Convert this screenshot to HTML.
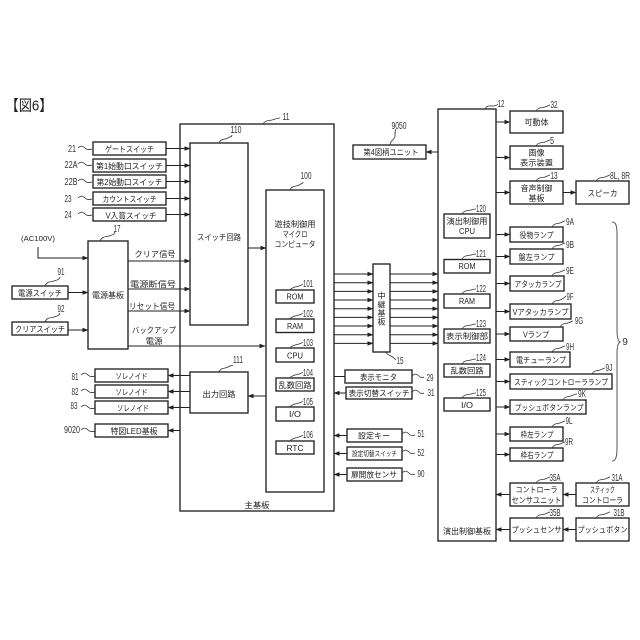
<!DOCTYPE html>
<html><head><meta charset="utf-8"><style>
html,body{margin:0;padding:0;background:#fff}
svg{display:block}
text{font-family:"Liberation Sans","Noto Sans CJK JP",sans-serif;font-size:8px;fill:#222;text-anchor:middle}
.n{font-size:10px;font-family:"Liberation Sans Narrow","Liberation Sans",sans-serif;fill:#333}
.b rect{fill:#fff;stroke:#222;stroke-width:1.35}
.l line,.l path{stroke:#222;stroke-width:1;fill:none}
.w path{stroke:#333;stroke-width:.8;fill:none}
.a path{fill:#222;stroke:none}
</style></head><body>
<svg width="640" height="640" viewBox="0 0 640 640" xmlns="http://www.w3.org/2000/svg">
<defs><marker id="m" viewBox="0 0 6 6" refX="5.5" refY="3" markerWidth="6" markerHeight="6" markerUnits="userSpaceOnUse" orient="auto"><path d="M0 .8L6 3L0 5.2z" fill="#222"/></marker></defs>
<text x="29" y="110.500" style="font-size:15px" textLength="47" lengthAdjust="spacingAndGlyphs">【図6】</text>

<g class="b">
<rect x="180" y="124" width="154" height="387"/>
<rect x="190" y="143" width="58" height="182"/>
<rect x="266" y="190" width="58" height="302"/>
<rect x="190" y="372" width="58" height="41"/>
<rect x="438" y="109" width="58" height="432"/>
<rect x="93" y="142" width="73" height="13"/>
<rect x="93" y="159" width="73" height="13"/>
<rect x="93" y="175" width="73" height="13"/>
<rect x="93" y="192" width="73" height="13"/>
<rect x="93" y="208" width="73" height="13"/>
<rect x="88" y="241" width="40" height="108"/>
<rect x="12" y="286" width="56" height="13"/>
<rect x="12" y="322" width="56" height="13"/>
<rect x="95" y="369" width="73" height="13"/>
<rect x="95" y="385" width="73" height="13"/>
<rect x="95" y="401" width="73" height="13"/>
<rect x="95" y="424" width="73" height="13"/>
<rect x="276" y="290" width="38" height="13"/>
<rect x="276" y="319" width="38" height="13.5"/>
<rect x="276" y="348" width="38" height="14"/>
<rect x="276" y="378" width="38" height="13"/>
<rect x="276" y="407" width="38" height="14"/>
<rect x="276" y="441" width="38" height="13"/>
<rect x="373" y="264" width="17" height="88"/>
<rect x="345" y="370" width="67" height="13"/>
<rect x="346" y="387" width="66" height="12"/>
<rect x="347" y="429" width="55" height="13"/>
<rect x="347" y="447" width="55" height="13"/>
<rect x="347" y="468" width="55" height="13"/>
<rect x="353" y="145" width="73" height="14"/>
<rect x="444" y="214" width="46" height="24"/>
<rect x="444" y="259.5" width="46" height="13.5"/>
<rect x="444" y="294" width="46" height="14"/>
<rect x="444" y="329" width="46" height="14"/>
<rect x="444" y="364" width="46" height="13"/>
<rect x="444" y="398" width="46" height="13"/>
<rect x="510" y="111" width="53" height="22"/>
<rect x="510" y="146" width="53" height="23"/>
<rect x="510" y="181" width="53" height="23"/>
<rect x="576" y="181" width="53" height="23"/>
<rect x="510" y="227" width="53" height="15"/>
<rect x="510" y="249" width="53" height="15"/>
<rect x="510" y="276" width="54" height="15"/>
<rect x="510" y="304" width="61" height="15"/>
<rect x="510" y="327" width="53" height="14"/>
<rect x="510" y="352" width="60" height="15"/>
<rect x="510" y="374" width="102" height="15"/>
<rect x="510" y="400" width="76" height="14"/>
<rect x="510" y="427" width="53" height="14"/>
<rect x="510" y="448" width="53" height="13"/>
<rect x="510" y="483" width="53" height="23"/>
<rect x="576" y="483" width="53" height="23"/>
<rect x="510" y="518" width="53" height="23"/>
<rect x="576" y="518" width="53" height="23"/>
</g>

<g class="l">
<line x1="166" y1="148.500" x2="190" y2="148.500" marker-end="url(#m)"/>
<line x1="166" y1="165.500" x2="190" y2="165.500" marker-end="url(#m)"/>
<line x1="166" y1="181.500" x2="190" y2="181.500" marker-end="url(#m)"/>
<line x1="166" y1="198.500" x2="190" y2="198.500" marker-end="url(#m)"/>
<line x1="166" y1="214.500" x2="190" y2="214.500" marker-end="url(#m)"/>
<path d="M38 247V258H88" marker-end="url(#m)"/>
<line x1="68" y1="292.500" x2="88" y2="292.500" marker-end="url(#m)"/>
<line x1="68" y1="330" x2="88" y2="330" marker-end="url(#m)"/>
<line x1="128" y1="261" x2="190" y2="261" marker-end="url(#m)"/>
<line x1="128" y1="289" x2="190" y2="289" marker-end="url(#m)"/>
<line x1="128" y1="311" x2="190" y2="311" marker-end="url(#m)"/>
<line x1="128" y1="346" x2="265" y2="346" marker-end="url(#m)"/>
<line x1="248" y1="248" x2="266" y2="248" marker-end="url(#m)"/>
<line x1="266" y1="396" x2="248" y2="396" marker-end="url(#m)"/>
<line x1="190" y1="375.500" x2="168" y2="375.500" marker-end="url(#m)"/>
<line x1="190" y1="391.500" x2="168" y2="391.500" marker-end="url(#m)"/>
<line x1="190" y1="407.500" x2="168" y2="407.500" marker-end="url(#m)"/>
<line x1="180" y1="430.500" x2="168" y2="430.500" marker-end="url(#m)"/>
<line x1="334" y1="274" x2="373" y2="274" marker-end="url(#m)"/><line x1="390" y1="274" x2="438" y2="274" marker-end="url(#m)"/>
<line x1="334" y1="282.700" x2="373" y2="282.700" marker-end="url(#m)"/><line x1="390" y1="282.700" x2="438" y2="282.700" marker-end="url(#m)"/>
<line x1="334" y1="291.400" x2="373" y2="291.400" marker-end="url(#m)"/><line x1="390" y1="291.400" x2="438" y2="291.400" marker-end="url(#m)"/>
<line x1="334" y1="300" x2="373" y2="300" marker-end="url(#m)"/><line x1="390" y1="300" x2="438" y2="300" marker-end="url(#m)"/>
<line x1="334" y1="308.700" x2="373" y2="308.700" marker-end="url(#m)"/><line x1="390" y1="308.700" x2="438" y2="308.700" marker-end="url(#m)"/>
<line x1="334" y1="317.400" x2="373" y2="317.400" marker-end="url(#m)"/><line x1="390" y1="317.400" x2="438" y2="317.400" marker-end="url(#m)"/>
<line x1="334" y1="326" x2="373" y2="326" marker-end="url(#m)"/><line x1="390" y1="326" x2="438" y2="326" marker-end="url(#m)"/>
<line x1="334" y1="334.700" x2="373" y2="334.700" marker-end="url(#m)"/><line x1="390" y1="334.700" x2="438" y2="334.700" marker-end="url(#m)"/>
<line x1="334" y1="343.400" x2="373" y2="343.400" marker-end="url(#m)"/><line x1="390" y1="343.400" x2="438" y2="343.400" marker-end="url(#m)"/>
<line x1="334" y1="376.500" x2="345" y2="376.500"/>
<line x1="346" y1="393" x2="334" y2="393" marker-end="url(#m)"/>
<line x1="347" y1="435.500" x2="334" y2="435.500" marker-end="url(#m)"/>
<line x1="347" y1="453.500" x2="334" y2="453.500" marker-end="url(#m)"/>
<line x1="347" y1="474.500" x2="334" y2="474.500" marker-end="url(#m)"/>
<line x1="438" y1="152" x2="426" y2="152" marker-end="url(#m)"/>
<line x1="496" y1="122" x2="510" y2="122" marker-end="url(#m)"/>
<line x1="496" y1="157.500" x2="510" y2="157.500" marker-end="url(#m)"/>
<line x1="496" y1="192.500" x2="510" y2="192.500" marker-end="url(#m)"/>
<line x1="563" y1="192.500" x2="576" y2="192.500" marker-end="url(#m)"/>
<line x1="496" y1="234.500" x2="510" y2="234.500" marker-end="url(#m)"/>
<line x1="496" y1="256.500" x2="510" y2="256.500" marker-end="url(#m)"/>
<line x1="496" y1="283.500" x2="510" y2="283.500" marker-end="url(#m)"/>
<line x1="496" y1="311.500" x2="510" y2="311.500" marker-end="url(#m)"/>
<line x1="496" y1="334" x2="510" y2="334" marker-end="url(#m)"/>
<line x1="496" y1="359.500" x2="510" y2="359.500" marker-end="url(#m)"/>
<line x1="496" y1="381.500" x2="510" y2="381.500" marker-end="url(#m)"/>
<line x1="496" y1="407" x2="510" y2="407" marker-end="url(#m)"/>
<line x1="496" y1="434" x2="510" y2="434" marker-end="url(#m)"/>
<line x1="496" y1="454.500" x2="510" y2="454.500" marker-end="url(#m)"/>
<line x1="510" y1="494.500" x2="496" y2="494.500" marker-end="url(#m)"/>
<line x1="576" y1="494.500" x2="563" y2="494.500" marker-end="url(#m)"/>
<line x1="510" y1="529.500" x2="496" y2="529.500" marker-end="url(#m)"/>
<line x1="576" y1="529.500" x2="563" y2="529.500" marker-end="url(#m)"/>
<path d="M612 222C616 222 617 226 617 234V330C617 338 618 341 620 342C618 343 617 346 617 354V448C617 456 616 461 612 461" style="stroke:#555"/>
</g>

<g class="w">
<path d="M78 148c3-3 5-2 7 0s4 2 7 1"/>
<path d="M78 164c3-3 5-2 7 0s4 2 7 1"/>
<path d="M78 181c3-3 5-2 7 0s4 2 7 1"/>
<path d="M78 198c3-3 5-2 7 0s4 2 7 1"/>
<path d="M78 214c3-3 5-2 7 0s4 2 7 1"/>
<path d="M100 241c2-5 6-4 9-5s5-1 6-4"/>
<path d="M45 286c2-5 6-4 9-5s5-1 6-4"/>
<path d="M45 322c2-5 6-4 9-5s5-1 6-4"/>
<path d="M81 375c3-3 5-2 7 0s4 2 7 1"/>
<path d="M81 391c3-3 5-2 7 0s4 2 7 1"/>
<path d="M81 407c3-3 5-2 7 0s4 2 7 1"/>
<path d="M81 430c3-3 5-2 7 0s4 2 7 1"/>
<path d="M219 143c2-5 6-3 9-5s4-1 4-3"/>
<path d="M263 124c2-4 6-3 9-4s6-2 8-2"/>
<path d="M290 190c2-5 6-3 9-5s4-1 4-3"/>
<path d="M290 290c2-3 6-3 9-4s4-2 4-2"/>
<path d="M290 319c2-3 6-3 9-4s4-2 4-2"/>
<path d="M290 348c2-3 6-3 9-4s4-2 4-2"/>
<path d="M290 378c2-3 6-3 9-4s4-2 4-2"/>
<path d="M290 407c2-3 6-3 9-4s4-2 4-2"/>
<path d="M290 441c2-3 6-3 9-4s4-2 4-2"/>
<path d="M219 372c2-5 6-3 9-5s4-1 5-2"/>
<path d="M385 352c3 3 4 3 6 4s4 3 5 4"/>
<path d="M412 376c3-3 5-2 7 0s3 2 5 1"/>
<path d="M412 392c3-3 5-2 7 0s3 2 5 1"/>
<path d="M402 434c3-3 5-2 7 0s3 2 6 1"/>
<path d="M402 452c3-3 5-2 7 0s3 2 6 1"/>
<path d="M402 473c3-3 5-2 7 0s3 2 6 1"/>
<path d="M390 145c0-5 5-5 5-9s0-5 1-7"/>
<path d="M485 109c2-4 5-3 8-3s4-1 5-2"/>
<path d="M462 214c2-4 6-3 9-4s4-1 5-1"/>
<path d="M462 259c2-4 6-3 9-4s4-1 5-1"/>
<path d="M462 294c2-4 6-3 9-4s4-1 5-1"/>
<path d="M462 329c2-4 6-3 9-4s4-1 5-1"/>
<path d="M462 364c2-4 6-3 9-4s4-1 5-1"/>
<path d="M462 398c2-4 6-3 9-4s4-1 5-1"/>
<path d="M536 111c2-4 6-3 9-4s4-2 5-2"/>
<path d="M536 146c2-4 6-3 9-4s4-2 5-2"/>
<path d="M536 181c2-4 6-3 9-4s4-2 5-2"/>
<path d="M596 181c2-4 6-3 9-4s4-2 5-2"/>
<path d="M552 227c2-4 5-3 8-4s4-2 5-2"/>
<path d="M552 249c2-4 5-3 8-4s4-2 5-2"/>
<path d="M552 276c2-4 5-3 8-4s4-2 5-2"/>
<path d="M552 304c2-4 5-3 8-4s4-2 6-4"/>
<path d="M560 327c2-4 5-3 8-4s4-2 5-2"/>
<path d="M552 352c2-4 5-3 8-4s4-2 5-2"/>
<path d="M592 374c2-4 5-3 8-4s4-2 5-2"/>
<path d="M563 400c2-4 5-3 8-4s4-2 6-2"/>
<path d="M552 427c2-4 5-3 8-4s4-2 5-2"/>
<path d="M552 448c2-4 5-3 8-4s4-2 5-2"/>
<path d="M536 483c2-4 6-3 9-4s4-2 5-2"/>
<path d="M596 483c2-4 6-3 9-4s4-2 5-2"/>
<path d="M536 518c2-4 6-3 9-4s4-2 5-2"/>
<path d="M596 518c2-4 6-3 9-4s4-2 5-2"/>
</g>

<g>
<text x="129.500" y="151.800" textLength="49" lengthAdjust="spacingAndGlyphs">ゲートスイッチ</text>
<text x="129.500" y="168.800" textLength="67" lengthAdjust="spacingAndGlyphs">第1始動口スイッチ</text>
<text x="129.500" y="184.800" textLength="66" lengthAdjust="spacingAndGlyphs">第2始動口スイッチ</text>
<text x="129.500" y="201.800" textLength="54" lengthAdjust="spacingAndGlyphs">カウントスイッチ</text>
<text x="131" y="218.300" textLength="51" lengthAdjust="spacingAndGlyphs">V入賞スイッチ</text>
<text x="38" y="241" style="font-size:7px" textLength="34" lengthAdjust="spacingAndGlyphs">(AC100V)</text>
<text x="108" y="298" textLength="32" lengthAdjust="spacingAndGlyphs">電源基板</text>
<text x="40" y="296" textLength="44" lengthAdjust="spacingAndGlyphs">電源スイッチ</text>
<text x="40" y="332" textLength="50" lengthAdjust="spacingAndGlyphs">クリアスイッチ</text>
<text x="155" y="257" textLength="41" lengthAdjust="spacingAndGlyphs">クリア信号</text>
<text x="153" y="287" textLength="46" lengthAdjust="spacingAndGlyphs">電源断信号</text>
<text x="152" y="309" textLength="46" lengthAdjust="spacingAndGlyphs">リセット信号</text>
<text x="154" y="333" textLength="44" lengthAdjust="spacingAndGlyphs">バックアップ</text>
<text x="154" y="344" textLength="17" lengthAdjust="spacingAndGlyphs">電源</text>
<text x="219" y="240" textLength="44" lengthAdjust="spacingAndGlyphs">スイッチ回路</text>
<text x="219" y="397" textLength="33" lengthAdjust="spacingAndGlyphs">出力回路</text>
<text x="295" y="227" textLength="41" lengthAdjust="spacingAndGlyphs">遊技制御用</text>
<text x="295" y="237" textLength="25" lengthAdjust="spacingAndGlyphs">マイクロ</text>
<text x="295" y="247" textLength="41" lengthAdjust="spacingAndGlyphs">コンピュータ</text>
<text x="295" y="299.500" textLength="17" lengthAdjust="spacingAndGlyphs">ROM</text>
<text x="295" y="329" textLength="16" lengthAdjust="spacingAndGlyphs">RAM</text>
<text x="295" y="358.500" textLength="16" lengthAdjust="spacingAndGlyphs">CPU</text>
<text x="295" y="388" textLength="33" lengthAdjust="spacingAndGlyphs">乱数回路</text>
<text x="295" y="417" textLength="12" lengthAdjust="spacingAndGlyphs">I/O</text>
<text x="295" y="451" textLength="17" lengthAdjust="spacingAndGlyphs">RTC</text>
<text x="257" y="508" textLength="25" lengthAdjust="spacingAndGlyphs">主基板</text>
<text x="131.500" y="379" textLength="32" lengthAdjust="spacingAndGlyphs">ソレノイド</text>
<text x="131.500" y="395" textLength="32" lengthAdjust="spacingAndGlyphs">ソレノイド</text>
<text x="133" y="411" textLength="32" lengthAdjust="spacingAndGlyphs">ソレノイド</text>
<text x="134" y="434" textLength="47" lengthAdjust="spacingAndGlyphs">特図LED基板</text>
<text x="381.500" y="298.500">中</text>
<text x="381.500" y="307.500">継</text>
<text x="381.500" y="316">基</text>
<text x="381.500" y="324.500">板</text>
<text x="378.500" y="380" textLength="37" lengthAdjust="spacingAndGlyphs">表示モニタ</text>
<text x="379" y="396" textLength="61" lengthAdjust="spacingAndGlyphs">表示切替スイッチ</text>
<text x="374" y="438.500" textLength="32" lengthAdjust="spacingAndGlyphs">設定キー</text>
<text x="374.500" y="456" style="font-size:7px" textLength="45" lengthAdjust="spacingAndGlyphs">設定切替スイッチ</text>
<text x="374" y="477.500" textLength="46" lengthAdjust="spacingAndGlyphs">扉開放センサ</text>
<text x="391" y="155" textLength="55" lengthAdjust="spacingAndGlyphs">第4図柄ユニット</text>
<text x="467" y="224" textLength="41" lengthAdjust="spacingAndGlyphs">演出制御用</text>
<text x="467" y="234" textLength="16" lengthAdjust="spacingAndGlyphs">CPU</text>
<text x="467" y="269" textLength="17" lengthAdjust="spacingAndGlyphs">ROM</text>
<text x="467" y="304" textLength="16" lengthAdjust="spacingAndGlyphs">RAM</text>
<text x="467" y="339" textLength="42" lengthAdjust="spacingAndGlyphs">表示制御部</text>
<text x="467" y="373.500" textLength="33" lengthAdjust="spacingAndGlyphs">乱数回路</text>
<text x="467" y="408" textLength="12" lengthAdjust="spacingAndGlyphs">I/O</text>
<text x="467" y="534" textLength="48" lengthAdjust="spacingAndGlyphs">演出制御基板</text>
<text x="536.500" y="125">可動体</text>
<text x="536.500" y="155.500">画像</text>
<text x="536.500" y="165.500" textLength="33" lengthAdjust="spacingAndGlyphs">表示装置</text>
<text x="536.500" y="191">音声制御</text>
<text x="536.500" y="201">基板</text>
<text x="602.500" y="196" textLength="30" lengthAdjust="spacingAndGlyphs">スピーカ</text>
<text x="536.500" y="238" textLength="34" lengthAdjust="spacingAndGlyphs">役物ランプ</text>
<text x="536.500" y="260" textLength="36" lengthAdjust="spacingAndGlyphs">盤左ランプ</text>
<text x="538" y="287" textLength="47" lengthAdjust="spacingAndGlyphs">アタッカランプ</text>
<text x="540.500" y="315" textLength="56" lengthAdjust="spacingAndGlyphs">Vアタッカランプ</text>
<text x="536" y="337.500" textLength="26" lengthAdjust="spacingAndGlyphs">Vランプ</text>
<text x="541" y="363" textLength="50" lengthAdjust="spacingAndGlyphs">電チューランプ</text>
<text x="561" y="385" textLength="94" lengthAdjust="spacingAndGlyphs">スティックコントローラランプ</text>
<text x="549" y="410.500" textLength="69" lengthAdjust="spacingAndGlyphs">プッシュボタンランプ</text>
<text x="537" y="437.500" textLength="33" lengthAdjust="spacingAndGlyphs">枠左ランプ</text>
<text x="537" y="458" textLength="33" lengthAdjust="spacingAndGlyphs">枠右ランプ</text>
<text x="536.500" y="492.500" textLength="42" lengthAdjust="spacingAndGlyphs">コントローラ</text>
<text x="536.500" y="503" textLength="50" lengthAdjust="spacingAndGlyphs">センサユニット</text>
<text x="602.500" y="492.500" textLength="25" lengthAdjust="spacingAndGlyphs">スティック</text>
<text x="602.500" y="503" textLength="41" lengthAdjust="spacingAndGlyphs">コントローラ</text>
<text x="536.500" y="532.500" textLength="50" lengthAdjust="spacingAndGlyphs">プッシュセンサ</text>
<text x="602.500" y="532.500" textLength="50" lengthAdjust="spacingAndGlyphs">プッシュボタン</text>
</g>

<g>
<text class="n" x="72" y="152" textLength="8" lengthAdjust="spacingAndGlyphs">21</text>
<text class="n" x="71" y="168" textLength="13" lengthAdjust="spacingAndGlyphs">22A</text>
<text class="n" x="71" y="185" textLength="13" lengthAdjust="spacingAndGlyphs">22B</text>
<text class="n" x="68" y="202" textLength="7" lengthAdjust="spacingAndGlyphs">23</text>
<text class="n" x="68" y="218" textLength="7" lengthAdjust="spacingAndGlyphs">24</text>
<text class="n" x="117" y="232" textLength="7" lengthAdjust="spacingAndGlyphs">17</text>
<text class="n" x="61" y="275" textLength="7" lengthAdjust="spacingAndGlyphs">91</text>
<text class="n" x="61" y="312" textLength="7" lengthAdjust="spacingAndGlyphs">92</text>
<text class="n" x="75" y="380" textLength="7" lengthAdjust="spacingAndGlyphs">81</text>
<text class="n" x="75" y="395" textLength="7" lengthAdjust="spacingAndGlyphs">82</text>
<text class="n" x="74" y="409" textLength="7" lengthAdjust="spacingAndGlyphs">83</text>
<text class="n" x="72" y="433" textLength="16" lengthAdjust="spacingAndGlyphs">9020</text>
<text class="n" x="236" y="133" textLength="11" lengthAdjust="spacingAndGlyphs">110</text>
<text class="n" x="286" y="120" textLength="7" lengthAdjust="spacingAndGlyphs">11</text>
<text class="n" x="306" y="179" textLength="11" lengthAdjust="spacingAndGlyphs">100</text>
<text class="n" x="308" y="287" textLength="10" lengthAdjust="spacingAndGlyphs">101</text>
<text class="n" x="308" y="317" textLength="10" lengthAdjust="spacingAndGlyphs">102</text>
<text class="n" x="308" y="346" textLength="10" lengthAdjust="spacingAndGlyphs">103</text>
<text class="n" x="308" y="376" textLength="10" lengthAdjust="spacingAndGlyphs">104</text>
<text class="n" x="308" y="405" textLength="10" lengthAdjust="spacingAndGlyphs">105</text>
<text class="n" x="308" y="438" textLength="10" lengthAdjust="spacingAndGlyphs">106</text>
<text class="n" x="238" y="363" textLength="10" lengthAdjust="spacingAndGlyphs">111</text>
<text class="n" x="400" y="364" textLength="7" lengthAdjust="spacingAndGlyphs">15</text>
<text class="n" x="430" y="381" textLength="7" lengthAdjust="spacingAndGlyphs">29</text>
<text class="n" x="431" y="396" textLength="7" lengthAdjust="spacingAndGlyphs">31</text>
<text class="n" x="421" y="437" textLength="7" lengthAdjust="spacingAndGlyphs">51</text>
<text class="n" x="421" y="456" textLength="7" lengthAdjust="spacingAndGlyphs">52</text>
<text class="n" x="421" y="477" textLength="7" lengthAdjust="spacingAndGlyphs">90</text>
<text class="n" x="399" y="129" textLength="15" lengthAdjust="spacingAndGlyphs">9050</text>
<text class="n" x="501" y="107" textLength="7" lengthAdjust="spacingAndGlyphs">12</text>
<text class="n" x="481" y="212" textLength="10" lengthAdjust="spacingAndGlyphs">120</text>
<text class="n" x="481" y="257" textLength="10" lengthAdjust="spacingAndGlyphs">121</text>
<text class="n" x="481" y="292" textLength="10" lengthAdjust="spacingAndGlyphs">122</text>
<text class="n" x="481" y="327" textLength="10" lengthAdjust="spacingAndGlyphs">123</text>
<text class="n" x="481" y="361" textLength="10" lengthAdjust="spacingAndGlyphs">124</text>
<text class="n" x="481" y="396" textLength="10" lengthAdjust="spacingAndGlyphs">125</text>
<text class="n" x="554" y="108" textLength="7" lengthAdjust="spacingAndGlyphs">32</text>
<text class="n" x="552" y="144" textLength="4" lengthAdjust="spacingAndGlyphs">5</text>
<text class="n" x="554" y="179" textLength="7" lengthAdjust="spacingAndGlyphs">13</text>
<text class="n" x="620" y="179" textLength="20" lengthAdjust="spacingAndGlyphs">8L, 8R</text>
<text class="n" x="570" y="225" textLength="8" lengthAdjust="spacingAndGlyphs">9A</text>
<text class="n" x="570" y="248" textLength="8" lengthAdjust="spacingAndGlyphs">9B</text>
<text class="n" x="570" y="274" textLength="8" lengthAdjust="spacingAndGlyphs">9E</text>
<text class="n" x="570" y="300" textLength="7" lengthAdjust="spacingAndGlyphs">9F</text>
<text class="n" x="579" y="324" textLength="8" lengthAdjust="spacingAndGlyphs">9G</text>
<text class="n" x="570" y="350" textLength="8" lengthAdjust="spacingAndGlyphs">9H</text>
<text class="n" x="609" y="371" textLength="7" lengthAdjust="spacingAndGlyphs">9J</text>
<text class="n" x="582" y="397" textLength="8" lengthAdjust="spacingAndGlyphs">9K</text>
<text class="n" x="569" y="424" textLength="7" lengthAdjust="spacingAndGlyphs">9L</text>
<text class="n" x="569" y="445" textLength="8" lengthAdjust="spacingAndGlyphs">9R</text>
<text class="n" x="555" y="481" textLength="11" lengthAdjust="spacingAndGlyphs">35A</text>
<text class="n" x="617" y="481" textLength="11" lengthAdjust="spacingAndGlyphs">31A</text>
<text class="n" x="555" y="516" textLength="11" lengthAdjust="spacingAndGlyphs">35B</text>
<text class="n" x="619" y="516" textLength="11" lengthAdjust="spacingAndGlyphs">31B</text>
<text class="n" x="625" y="345">9</text>
</g>
</svg>
</body></html>
